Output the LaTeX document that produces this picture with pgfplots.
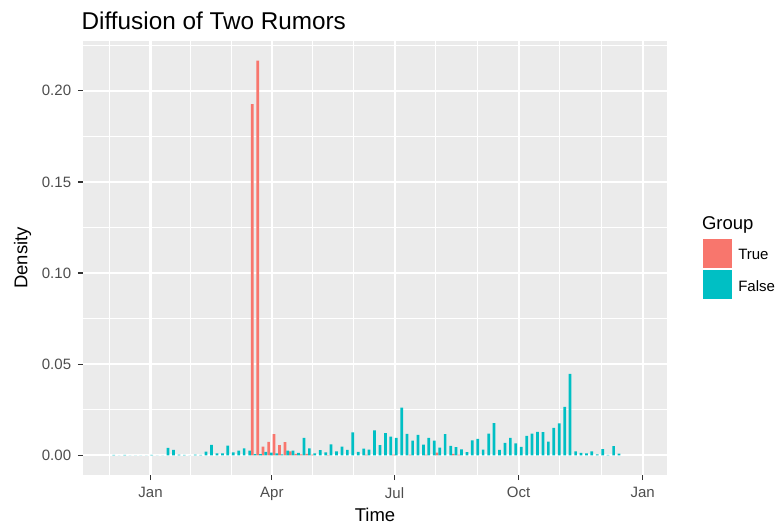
\documentclass[border=0pt]{standalone}
\usepackage{fontspec}
\setmainfont{Liberation Sans}
\usepackage{pgfplots}
\usepackage{pgfplotstable}
\pgfplotsset{compat=1.18}

\definecolor{panelbg}{HTML}{EBEBEB}
\definecolor{rumortrue}{HTML}{F8766D}
\definecolor{rumorfalse}{HTML}{00BFC4}
\definecolor{ticktext}{HTML}{4D4D4D}
\definecolor{tickline}{HTML}{333333}

% bin centre (days from 1 Jan), density of the "False" group
\pgfplotstableread{
day density
-28.3 0.0002
-24.3 0
-20.2 0.0002
-16.2 0
-12.2 0
-8.2 0
-4.1 0
-0.1 0.0002
3.9 0
8.0 0
12.0 0.0040
16.0 0.0030
20.1 0.0004
24.1 0.0002
28.1 0
32.2 0.0003
36.2 0.0002
40.2 0.0020
44.2 0.0057
48.3 0.0010
52.3 0.0010
56.3 0.0053
60.4 0.0016
64.4 0.0026
68.4 0.0038
72.5 0.0026
76.5 0.0006
80.5 0.0006
84.5 0.0018
88.6 0.0015
92.6 0.0010
96.6 0.0005
100.7 0.0025
104.7 0.0025
108.7 0.0013
112.8 0.0096
116.8 0.0038
120.8 0.0011
124.8 0.0028
128.9 0.0016
132.9 0.0060
136.9 0.0022
141.0 0.0048
145.0 0.0030
149.0 0.0125
153.1 0.0019
157.1 0.0036
161.1 0.0031
165.1 0.0137
169.2 0.0055
173.2 0.0122
177.2 0.0102
181.3 0.0096
185.3 0.0261
189.3 0.0118
193.4 0.0080
197.4 0.0112
201.4 0.0058
205.4 0.0096
209.5 0.0080
213.5 0.0042
217.5 0.0116
221.6 0.0051
225.6 0.0045
229.6 0.0033
233.7 0.0017
237.7 0.0082
241.7 0.0090
245.7 0.0031
249.8 0.0119
253.8 0.0176
257.8 0.0029
261.9 0.0068
265.9 0.0095
269.9 0.0065
274.0 0.0046
278.0 0.0106
282.0 0.0119
286.0 0.0128
290.1 0.0127
294.1 0.0075
298.1 0.0150
302.2 0.0175
306.2 0.0266
310.2 0.0447
314.3 0.0022
318.3 0.0013
322.3 0.0011
326.3 0.0022
330.4 0.0005
334.4 0.0034
338.4 0.0002
342.5 0.0050
346.5 0.0009
}\falsetable

% bin centre (days from 1 Jan), density of the "True" group
\pgfplotstableread{
day density
76.5 0.1927
80.5 0.2165
84.5 0.0047
88.6 0.0073
92.6 0.0116
96.6 0.0055
100.7 0.0072
104.7 0.0021
108.7 0.0007
112.8 0.0005
116.8 0.0007
120.8 0.0003
132.9 0.0002
161.1 0.0003
181.3 0.0003
193.4 0.0003
205.4 0.0003
213.5 0.0014
225.6 0.0007
229.6 0.0003
}\truetable

\begin{document}
\begin{tikzpicture}
\useasboundingbox (0,0) rectangle (779bp,524bp);
\begin{axis}[
    at={(83bp,49bp)}, anchor=south west,
    scale only axis,
    width=584bp, height=434bp,
    xmin=-50.1, xmax=383.1,
    ymin=-0.01083, ymax=0.22733,
    axis line style={draw=none},
    axis background/.style={fill=panelbg},
    xtick={0,90,181,273,365},
    xticklabels={Jan,Apr,Jul,Oct,Jan},
    minor xtick={-30.3,30,60,120.3,150.7,211.7,242.3,303.7,334.3},
    ytick={0,0.05,0.10,0.15,0.20},
    yticklabels={0.00,0.05,0.10,0.15,0.20},
    minor ytick={0.025,0.075,0.125,0.175,0.225},
    xmajorgrids, ymajorgrids, xminorgrids, yminorgrids,
    major grid style={white, line width=2.1bp},
    minor grid style={white, line width=1.0bp},
    tick align=outside,
    xtick pos=bottom, ytick pos=left,
    major tick length=5.2bp, minor tick length=0pt,
    major tick style={tickline, line width=1.2bp},
    tick label style={font=\fontsize{15bp}{18bp}\selectfont, text=ticktext, inner sep=0pt},
    xticklabel style={anchor=north, yshift=-6.8bp},
    yticklabel style={anchor=east, xshift=-6.5bp},
    every axis title shift=0pt,
    title={Diffusion of Two Rumors},
    title style={at={(axis description cs:-0.0026,1.0258)}, anchor=base west,
        inner sep=0pt, font=\fontsize{24.3bp}{29bp}\selectfont},
    xlabel={Time},
    xlabel style={at={(axis description cs:0.5,-0.1061)}, anchor=base,
        inner sep=0pt, font=\fontsize{18.5bp}{22bp}\selectfont},
    ylabel={Density},
    ylabel style={at={(axis description cs:-0.0951,0.5)}, anchor=base,
        inner sep=0pt, font=\fontsize{18.5bp}{22bp}\selectfont},
    legend image code/.code={\path[#1, draw=none] (0bp,-12.3bp) rectangle (29.5bp,16.7bp);},
    legend cell align=left,
    legend style={draw=none, fill=none, inner sep=0pt, outer sep=0pt,
        anchor=north west, at={(rel axis cs:1.0612,0.5445)},
        row sep=2bp,
        nodes={inner sep=0pt, anchor=west, font=\fontsize{15bp}{18bp}\selectfont},
        /tikz/every odd column/.append style={column sep=6bp}},
]
\addplot[ybar, bar width=2.015, bar shift=-1.0075, fill=rumortrue, draw=none]
    table[x=day, y=density] {\truetable};
\addlegendentry{True}
\addplot[ybar, bar width=2.015, bar shift=1.0075, fill=rumorfalse, draw=none]
    table[x=day, y=density] {\falsetable};
\addlegendentry{False}
\end{axis}
\node[anchor=base west, inner sep=0pt, font=\fontsize{18.5bp}{22bp}\selectfont]
    at (701.8bp,294bp) {Group};
\end{tikzpicture}
\end{document}
